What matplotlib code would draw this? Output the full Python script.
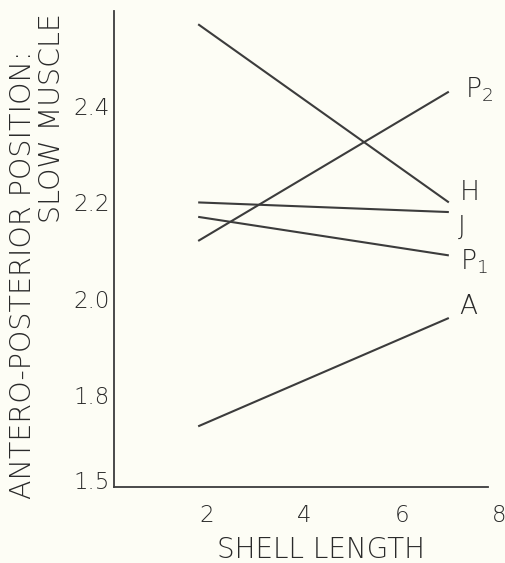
import numpy as np
import matplotlib
matplotlib.use("Agg")
import matplotlib.pyplot as plt

# data (shell length vs position)
longitud = [1.82, 6.96]
lineas = ["H", "J", "P1", "P2", "A"]
valores_H = [2.57, 2.20]
valores_J = [2.20, 2.18]
valores_P1 = [2.17, 2.09]
valores_P2 = [2.12, 2.43]
valores_A = [1.735, 1.96]

etiquetas = ["H", "J", r"$\mathregular{P_1}$", r"$\mathregular{P_2}$", "A"]
pos_etiqueta_x = [7.19, 7.15, 7.19, 7.29, 7.17]
pos_etiqueta_y = [2.221, 2.149, 2.076, 2.433, 1.983]

yticks = [1.624, 1.8, 2.0, 2.2, 2.4]
yticklabels = ["1.5", "1.8", "2.0", "2.2", "2.4"]
xticks = [2, 4, 6, 8]

plt.rcParams["font.family"] = ["DejaVu Sans"]
plt.rcParams["font.weight"] = "light"
fondo = "#fdfdf5"
tinta = "#3c3c3c"
texto = "#2a2a2a"

fig = plt.figure(figsize=(5.06, 5.63), dpi=100, facecolor=fondo)
ax = fig.add_axes([114 / 506, 0.135, 388 / 506, 0.845], facecolor=fondo)

series = [valores_H, valores_J, valores_P1, valores_P2, valores_A]
for vals in series:
    ax.plot(longitud, vals, color=tinta, lw=1.5, solid_capstyle="butt")

for txt, x, y in zip(etiquetas, pos_etiqueta_x, pos_etiqueta_y):
    ax.text(x, y, txt, ha="left", va="center", fontsize=19, color=texto)

ax.set_xlim(0.094, 8.05)
ax.set_ylim(1.609, 2.597)
ax.spines["top"].set_visible(False)
ax.spines["right"].set_visible(False)
ax.spines["bottom"].set_bounds(0.094, 7.76)
for s in ["left", "bottom"]:
    ax.spines[s].set_color(tinta)
    ax.spines[s].set_linewidth(1.3)

ax.set_xticks(xticks)
ax.set_xticklabels([str(v) for v in xticks])
ax.set_yticks(yticks)
ax.set_yticklabels(yticklabels)
ax.tick_params(axis="x", length=0, pad=12, labelsize=16.5, colors=texto)
ax.tick_params(axis="y", length=0, pad=3, labelsize=16.5, colors=texto)

fig.text(321 / 506, 1 - 550 / 563, "SHELL LENGTH", ha="center", va="center",
         fontsize=20, color=texto)

fig.text(23 / 506, 1 - 275 / 563, "ANTERO-POSTERIOR POSITION:", rotation=90,
         ha="center", va="center", fontsize=20.5, color=texto)
fig.text(52 / 506, 1 - 13 / 563, "SLOW MUSCLE", rotation=90,
         ha="center", va="top", fontsize=20.5, color=texto)

fig.savefig("out.png", dpi=100, facecolor=fondo)
